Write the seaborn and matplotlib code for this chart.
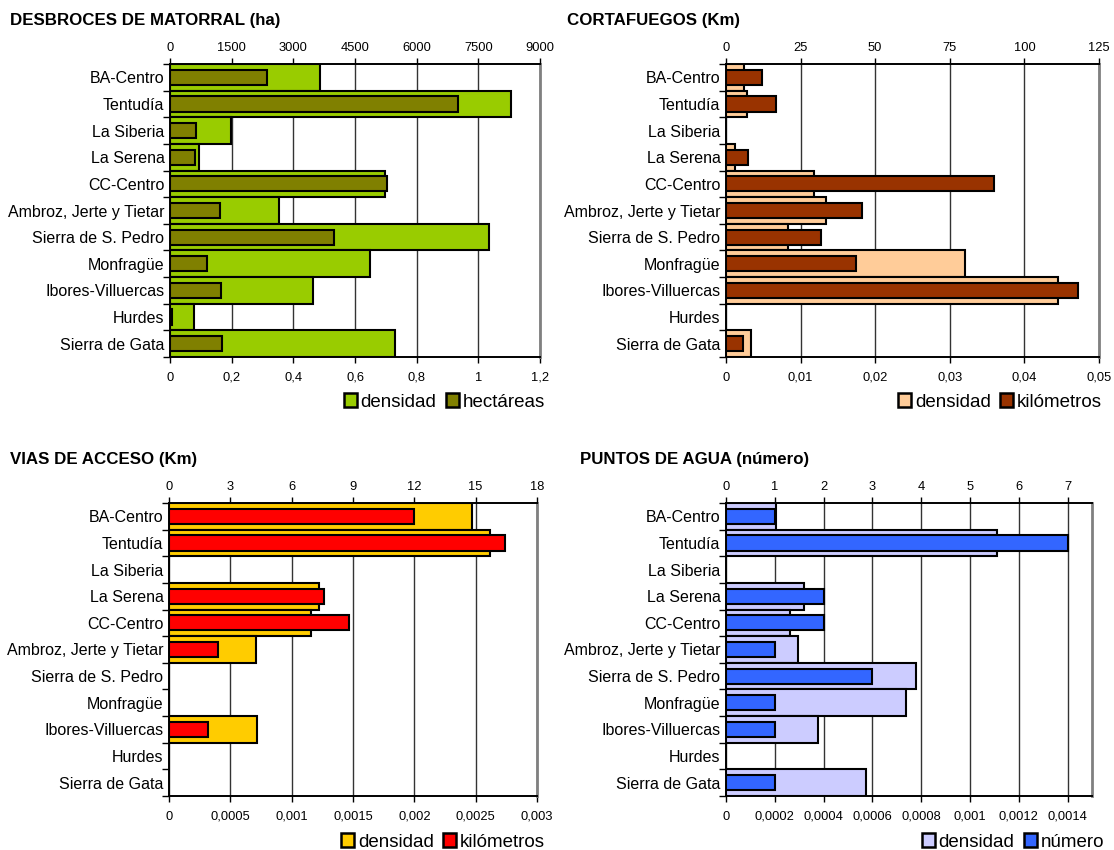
import numpy as np
import matplotlib
matplotlib.use("Agg")
import matplotlib.pyplot as plt
from matplotlib.patches import Patch
from matplotlib.ticker import FuncFormatter, MultipleLocator, FixedLocator
import seaborn as sns

# ---- data -------------------------------------------------------------
comarcas = ["BA-Centro", "Tentudía", "La Siberia", "La Serena", "CC-Centro",
            "Ambroz, Jerte y Tietar", "Sierra de S. Pedro", "Monfragüe",
            "Ibores-Villuercas", "Hurdes", "Sierra de Gata"]

desbroces_densidad = [0.486, 1.107, 0.197, 0.093, 0.697, 0.353, 1.034, 0.650, 0.465, 0.078, 0.729]
desbroces_ha = [2360, 7000, 630, 600, 5290, 1210, 3980, 890, 1245, 60, 1270]

cortafuegos_densidad = [0.00244, 0.00282, 0, 0.00119, 0.0118, 0.01347, 0.00831, 0.0321, 0.04456, 0, 0.00339]
cortafuegos_km = [11.9, 16.6, 0, 7.5, 89.8, 45.6, 32.0, 43.5, 118.1, 0, 5.85]

vias_densidad = [0.002474, 0.002614, 0, 0.001219, 0.001155, 0.000708, 0, 0, 0.000719, 0, 0]
vias_km = [12.0, 16.45, 0, 7.6, 8.8, 2.4, 0, 0, 1.9, 0, 0]

agua_densidad = [0.000203, 0.001111, 0, 0.000318, 0.000261, 0.000295, 0.000780, 0.000737, 0.000375, 0, 0.000575]
agua_numero = [1, 7, 0, 2, 2, 1, 3, 1, 1, 0, 1]

# ---- style ------------------------------------------------------------
sns.set_style("white")
plt.rcParams["font.family"] = ["Liberation Sans", "DejaVu Sans"]
plt.rcParams["text.color"] = "black"
plt.rcParams["xtick.color"] = "black"
plt.rcParams["ytick.color"] = "black"
plt.rcParams["axes.labelcolor"] = "black"

W, H = 1114, 850
fig = plt.figure(figsize=(W / 100, H / 100), dpi=100)


def fmt_comma(v, _pos=None):
    if abs(v) < 1e-12:
        return "0"
    return "{:g}".format(round(v, 6)).replace(".", ",")


def hide_empty_bars(axis):
    for p in axis.patches:
        if p.get_width() == 0:
            p.set_visible(False)


def panel(box, title, title_xy, dens, absval, c_dens, c_abs,
          dens_max, dens_step, abs_max, abs_step, abs_label, legend_xy):
    x0, y0, x1, y1 = box
    ax = fig.add_axes([x0 / W, 1 - y1 / H, (x1 - x0) / W, (y1 - y0) / H])

    sns.barplot(x=dens, y=comarcas, orient="h", color=c_dens, saturation=1,
                width=1.0, edgecolor="black", linewidth=1.5, ax=ax)
    ax2 = ax.twiny()
    sns.barplot(x=absval, y=comarcas, orient="h", color=c_abs, saturation=1,
                width=0.57, edgecolor="black", linewidth=1.5, ax=ax2)
    hide_empty_bars(ax)
    hide_empty_bars(ax2)

    ax.set_xlim(0, dens_max)
    ax2.set_xlim(0, abs_max)
    ax.set_ylim(len(comarcas) - 0.5, -0.5)
    ax.set_xlabel("")
    ax.set_ylabel("")
    ax2.set_xlabel("")
    ax2.set_ylabel("")

    # numeric axes
    ax.xaxis.set_major_locator(MultipleLocator(dens_step))
    ax.xaxis.set_major_formatter(FuncFormatter(fmt_comma))
    ax2.xaxis.set_major_locator(MultipleLocator(abs_step))
    ax2.xaxis.set_major_formatter(FuncFormatter(lambda v, p: "{:g}".format(v)))
    ax.tick_params(axis="x", direction="out", length=4, width=1, color="black",
                   labelsize=9.3, pad=6.5, bottom=True)
    ax2.tick_params(axis="x", direction="out", length=4, width=1, color="black",
                    labelsize=9.3, pad=3.5, top=True)

    # category axis: labels at centres, tick marks at boundaries
    ax.set_yticks(range(len(comarcas)))
    ax.set_yticklabels(comarcas)
    ax.yaxis.set_minor_locator(FixedLocator(np.arange(-0.5, len(comarcas), 1.0)))
    ax.tick_params(axis="y", which="major", length=0, pad=4, labelsize=11.5, left=True)
    ax.tick_params(axis="y", which="minor", length=5, width=1, color="black",
                   direction="out", left=True)
    ax2.tick_params(axis="y", left=False, right=False, labelleft=False, labelright=False)

    # vertical gridlines behind the bars
    ax.set_axisbelow(True)
    ax.xaxis.grid(True, color="#333333", linewidth=1)
    ax.yaxis.grid(False)
    ax2.grid(False)

    for s in ("left", "bottom"):
        ax.spines[s].set_color("black")
        ax.spines[s].set_linewidth(1.4)
    ax.spines["right"].set_color("#808080")
    ax.spines["right"].set_linewidth(2)
    ax.spines["top"].set_visible(False)
    ax2.spines["top"].set_color("black")
    ax2.spines["top"].set_linewidth(1.4)
    for s in ("left", "bottom", "right"):
        ax2.spines[s].set_visible(False)

    fig.text(title_xy[0] / W, 1 - title_xy[1] / H, title, fontsize=12.2,
             fontweight="bold", ha="left", va="center", color="black")

    handles = [Patch(facecolor=c_dens, edgecolor="black", linewidth=1.8, label="densidad"),
               Patch(facecolor=c_abs, edgecolor="black", linewidth=1.8, label=abs_label)]
    fig.legend(handles=handles, loc="center right",
               bbox_to_anchor=(legend_xy[0] / W, 1 - legend_xy[1] / H),
               ncol=2, frameon=False, fontsize=13.5, handlelength=0.7,
               handleheight=0.7, handletextpad=0.2, columnspacing=0.5,
               borderaxespad=0, borderpad=0)


panel((170, 64, 540, 357), "DESBROCES DE MATORRAL (ha)", (10, 20),
      desbroces_densidad, desbroces_ha, "#99CC00", "#808000",
      1.2, 0.2, 9000, 1500, "hectáreas", (545, 402))

panel((726, 64, 1099, 357), "CORTAFUEGOS (Km)", (567, 20),
      cortafuegos_densidad, cortafuegos_km, "#FFCC99", "#993300",
      0.05, 0.01, 125, 25, "kilómetros", (1102, 402))

panel((169, 503, 537, 796), "VIAS DE ACCESO (Km)", (10, 460),
      vias_densidad, vias_km, "#FFCC00", "#FF0000",
      0.003, 0.0005, 18, 3, "kilómetros", (545, 842))

panel((726, 503, 1092, 796), "PUNTOS DE AGUA (número)", (580, 460),
      agua_densidad, agua_numero, "#CCCCFF", "#3366FF",
      0.0015, 0.0002, 7.5, 1, "número", (1104, 842))

fig.savefig("out.png", dpi=100, facecolor="white")
